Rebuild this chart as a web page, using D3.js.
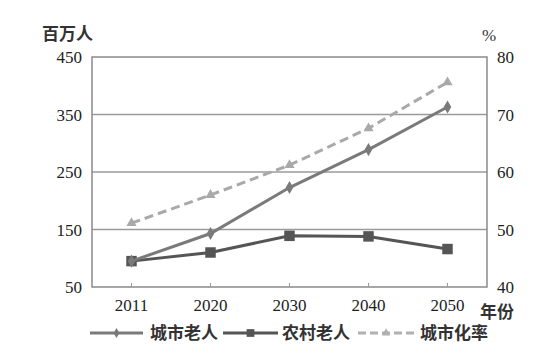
<!DOCTYPE html>
<html><head><meta charset="utf-8">
<script src="https://cdn.jsdelivr.net/npm/d3@7"></script>
<style>body{margin:0;background:#fff} .num{font-family:"Liberation Serif","Times New Roman","DejaVu Serif",serif;}</style>
</head><body>
<script>
const years = ["2011","2020","2030","2040","2050"];
const urbanElderly = [95,143,223,289,363];
const ruralElderly = [95,110,139,138,116];
const urbanRate = [51.1,56.0,61.2,67.6,75.6];
const leftTicks = [50,150,250,350,450];
const rightTicks = [40,50,60,70,80];
const seriesNames = ["城市老人","农村老人","城市化率"];

const W=546,H=356;
const m={l:92,r:487,t:57,b:287};
const svg=d3.select("body").append("svg").attr("width",W).attr("height",H);
const x=d3.scaleBand().domain(years).range([m.l,m.r]);
const yL=d3.scaleLinear().domain([50,450]).range([m.b,m.t]);
const yR=d3.scaleLinear().domain([40,80]).range([m.b,m.t]);
const cjk="'Noto Sans CJK SC',sans-serif";

svg.append("g").selectAll("line").data(leftTicks.slice(1,-1)).join("line")
 .attr("x1",m.l).attr("x2",m.r).attr("y1",d=>yL(d)).attr("y2",d=>yL(d))
 .attr("stroke","#9a9a9a").attr("stroke-width",1.5);
svg.append("rect").attr("x",m.l).attr("y",m.t).attr("width",m.r-m.l).attr("height",m.b-m.t)
 .attr("fill","none").attr("stroke","#8a8a8a").attr("stroke-width",1.5);
svg.append("g").selectAll("line").data(years).join("line")
 .attr("x1",d=>x(d)+x.bandwidth()/2).attr("x2",d=>x(d)+x.bandwidth()/2)
 .attr("y1",m.b-4).attr("y2",m.b).attr("stroke","#999").attr("stroke-width",1);

svg.append("g").selectAll("text").data(leftTicks).join("text").attr("class","num")
 .attr("x",82).attr("y",d=>yL(d)+6).attr("text-anchor","end")
 .attr("font-size",17).attr("fill","#222").text(d=>d);
svg.append("g").selectAll("text").data(rightTicks).join("text").attr("class","num")
 .attr("x",497).attr("y",d=>yR(d)+6).attr("text-anchor","start")
 .attr("font-size",17).attr("fill","#222").text(d=>d);
svg.append("g").selectAll("text").data(years).join("text").attr("class","num")
 .attr("x",d=>x(d)+x.bandwidth()/2).attr("y",311).attr("text-anchor","middle")
 .attr("font-size",17).attr("fill","#222").text(d=>d);
svg.append("text").attr("x",42).attr("y",40).attr("font-family",cjk).attr("font-size",17)
 .attr("font-weight","bold").attr("fill","#333").text("百万人");
svg.append("text").attr("class","num").attr("x",482).attr("y",41).attr("font-size",17)
 .attr("fill","#333").text("%");
svg.append("text").attr("x",480).attr("y",318).attr("font-family",cjk).attr("font-size",17)
 .attr("font-weight","bold").attr("fill","#333").text("年份");

const cx=d=>x(d)+x.bandwidth()/2;
function drawLine(vals,scale,color,dash,shape,size){
  const pts=years.map((y,i)=>[cx(y),scale(vals[i])]);
  svg.append("path").attr("d",d3.line()(pts)).attr("fill","none").attr("stroke",color)
   .attr("stroke-width",3).attr("stroke-dasharray",dash);
  svg.append("g").selectAll("path").data(pts).join("path")
   .attr("transform",d=>`translate(${d[0]},${d[1]})`)
   .attr("d",d3.symbol().type(shape).size(size)).attr("fill",color);
}
drawLine(urbanRate,yR,"#a9a9a9","9,5",d3.symbolTriangle,45);
drawLine(ruralElderly,yL,"#555","",d3.symbolSquare,110);
drawLine(urbanElderly,yL,"#7a7a7a","",d3.symbolDiamond,50);

const ly=333;
const leg=[
 {x1:90,x2:143,tx:150,color:"#7a7a7a",dash:"",shape:d3.symbolDiamond,size:30},
 {x1:223,x2:278,tx:282,color:"#555",dash:"",shape:d3.symbolSquare,size:60},
 {x1:358,x2:414,tx:420,color:"#b0b0b0",dash:"8,4",shape:d3.symbolTriangle,size:30}
];
leg.forEach((l,i)=>{
  svg.append("line").attr("x1",l.x1).attr("x2",l.x2).attr("y1",ly).attr("y2",ly)
   .attr("stroke",l.color).attr("stroke-width",3).attr("stroke-dasharray",l.dash);
  svg.append("path").attr("transform",`translate(${(l.x1+l.x2)/2},${ly})`)
   .attr("d",d3.symbol().type(l.shape).size(l.size)).attr("fill",l.color);
  svg.append("text").attr("x",l.tx).attr("y",ly+6).attr("font-family",cjk).attr("font-size",17)
   .attr("font-weight","bold").attr("fill","#333").text(seriesNames[i]);
});
</script>
</body></html>
